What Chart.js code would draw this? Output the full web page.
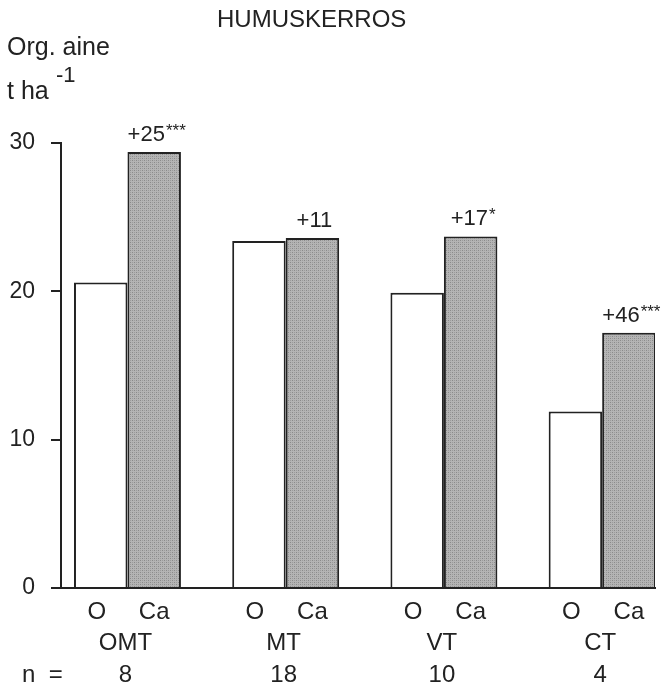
<!DOCTYPE html>
<html>
<head>
<meta charset="utf-8">
<script src="https://cdn.jsdelivr.net/npm/chart.js@4/dist/chart.umd.min.js"></script>
<style>
  html, body { margin: 0; padding: 0; background: #fff; }
  #wrap { width: 665px; height: 688px; position: relative; }
</style>
</head>
<body>
<div id="wrap"><canvas id="c"></canvas></div>
<script>
// Humus layer organic matter by site type, control (O) vs limed (Ca)
const categories = ['OMT', 'MT', 'VT', 'CT'];
const sampleCounts = [8, 18, 10, 4];
const treatmentLabels = ['O', 'Ca'];
const valuesO = [20.6, 23.4, 19.9, 11.9];
const valuesCa = [29.4, 23.6, 23.7, 17.2];
const changePercent = ['+25', '+11', '+17', '+46'];
const significance = ['***', '', '*', '***'];
const yTicks = [0, 10, 20, 30];

const FONT = '"Liberation Sans", Arial, Helvetica, sans-serif';
const INK = '#222';

// stippled grey fill for the limed bars
function stipple() {
  const t = document.createElement('canvas');
  t.width = 4; t.height = 4;
  const g = t.getContext('2d');
  g.fillStyle = '#b4b4b4';
  g.fillRect(0, 0, 4, 4);
  g.fillStyle = '#8a8a8a';
  g.fillRect(0, 0, 1, 1);
  g.fillRect(2, 2, 1, 1);
  g.fillStyle = '#9c9c9c';
  g.fillRect(2, 0, 1, 1);
  g.fillRect(0, 2, 1, 1);
  return g.createPattern(t, 'repeat');
}

const textPlugin = {
  id: 'texts',
  afterDraw(chart) {
    const ctx = chart.ctx;
    const x = chart.scales.x;
    const metaO = chart.getDatasetMeta(0);
    const metaCa = chart.getDatasetMeta(1);
    ctx.save();
    ctx.fillStyle = INK;
    ctx.textBaseline = 'alphabetic';

    // title and axis caption
    ctx.font = '24px ' + FONT;
    ctx.textAlign = 'left';
    ctx.fillText('HUMUSKERROS', 217, 27);
    ctx.font = '25px ' + FONT;
    ctx.fillText('Org. aine', 7, 55);
    ctx.fillText('t ha', 7, 99);
    ctx.font = '22px ' + FONT;
    ctx.fillText('-1', 56, 82);

    // change labels above limed bars
    categories.forEach((c, i) => {
      const bar = metaCa.data[i];
      const base = bar.y - 11;
      ctx.font = '22px ' + FONT;
      const main = changePercent[i];
      const stars = significance[i];
      const wMain = ctx.measureText(main).width;
      ctx.font = '17px ' + FONT;
      const wStars = stars ? ctx.measureText(stars).width : 0;
      const start = bar.x + 2 - (wMain + wStars) / 2;
      ctx.textAlign = 'left';
      ctx.font = '22px ' + FONT;
      ctx.fillText(main, start, base);
      if (stars) {
        ctx.font = '17px ' + FONT;
        ctx.fillText(stars, start + wMain + 1, base - 5);
      }
    });

    // treatment, site type and n rows under the axis
    ctx.font = '24px ' + FONT;
    ctx.textAlign = 'center';
    categories.forEach((c, i) => {
      ctx.fillText(treatmentLabels[0], metaO.data[i].x - 4, 619);
      ctx.fillText(treatmentLabels[1], metaCa.data[i].x, 619);
      const cx = x.getPixelForValue(i) - 2;
      ctx.fillText(c, cx, 650);
      ctx.fillText(String(sampleCounts[i]), cx, 682);
    });
    ctx.textAlign = 'left';
    ctx.fillText('n  =', 22, 682);
    ctx.restore();
  }
};

const pattern = stipple();

new Chart(document.getElementById('c'), {
  type: 'bar',
  data: {
    datasets: [
      {
        label: treatmentLabels[0],
        data: valuesO.map((v, i) => ({ x: i, y: v })),
        backgroundColor: '#ffffff',
        borderColor: INK,
        borderWidth: 2,
        borderSkipped: 'bottom'
      },
      {
        label: treatmentLabels[1],
        data: valuesCa.map((v, i) => ({ x: i, y: v })),
        backgroundColor: pattern,
        borderColor: INK,
        borderWidth: 2,
        borderSkipped: 'bottom'
      }
    ]
  },
  options: {
    responsive: true,
    maintainAspectRatio: false,
    animation: false,
    categoryPercentage: 0.676,
    barPercentage: 1.0,
    layout: { padding: { top: 143, right: 10, bottom: 100, left: 0 } },
    plugins: { legend: { display: false }, tooltip: { enabled: false } },
    scales: {
      x: {
        type: 'linear',
        min: -0.42,
        max: 3.334,
        offset: false,
        afterBuildTicks(s) { s.ticks = categories.map((c, i) => ({ value: i })); },
        grid: { display: false },
        ticks: { display: false },
        border: { display: true, color: INK, width: 2 },
        afterFit(s) { s.height = 0; }
      },
      y: {
        min: 0,
        max: 30,
        afterBuildTicks(s) { s.ticks = yTicks.map(v => ({ value: v })); },
        grid: {
          display: true,
          drawOnChartArea: false,
          drawTicks: true,
          tickLength: 10,
          color: INK,
          lineWidth: 2
        },
        border: { display: true, color: INK, width: 2 },
        ticks: {
          color: INK,
          padding: 16,
          font: { family: FONT, size: 23 }
        },
        afterFit(s) { s.width = 61; }
      }
    }
  },
  plugins: [textPlugin]
});
</script>
</body>
</html>
